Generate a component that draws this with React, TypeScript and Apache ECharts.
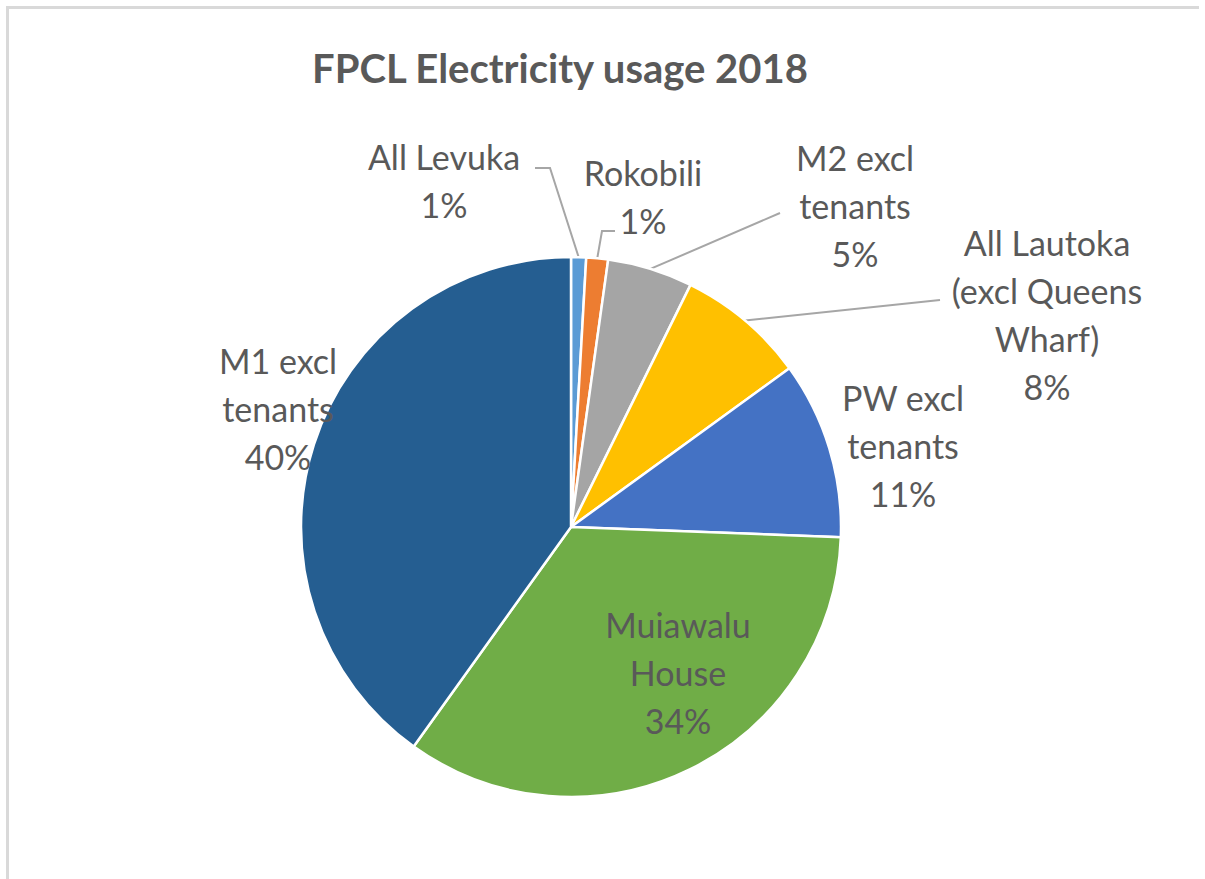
import React, { useEffect, useRef } from "react";
import * as echarts from "echarts";

// ---- data ----
const TITLE = "FPCL Electricity usage 2018";
const categories = [
  "All Levuka",
  "Rokobili",
  "M2 excl\ntenants",
  "All Lautoka\n(excl Queens\nWharf)",
  "PW excl\ntenants",
  "Muiawalu\nHouse",
  "M1 excl\ntenants",
];
const values = [0.9, 1.3, 5.1, 7.7, 10.6, 34.3, 40.1];
const colors = ["#5B9BD5", "#ED7D31", "#A5A5A5", "#FFC000", "#4472C4", "#70AD47", "#255E91"];

// ---- layout (pixels) ----
const CENTER: [number, number] = [571, 527];
const RADIUS = 270;
const LABEL_POS: [number, number][] = [
  [444, 180],
  [643, 196],
  [855, 205],
  [1047, 314],
  [903, 445],
  [678, 672],
  [278, 408],
];
const LEADER: ([number, number][] | null)[] = [
  [[550, 168], [535, 168]],
  [[602, 231], [615, 231]],
  [[780, 213]],
  [[940, 300]],
  null,
  null,
  null,
];

const TEXT_COLOR = "#595959";
const FONT = "Lato";

export default function App() {
  const ref = useRef<HTMLDivElement>(null);
  useEffect(() => {
    document.body.style.margin = "0";
    if (!ref.current) return;
    const chart = echarts.init(ref.current, undefined, { renderer: "svg" });
    const total = values.reduce((a, b) => a + b, 0);
    const cum: number[] = [];
    values.reduce((acc, v) => {
      cum.push(acc);
      return acc + v;
    }, 0);
    const edgePoint = (i: number): [number, number] => {
      const theta = ((cum[i] + values[i] / 2) / total) * Math.PI * 2;
      return [CENTER[0] + RADIUS * Math.sin(theta), CENTER[1] - RADIUS * Math.cos(theta)];
    };
    chart.setOption({
      animation: false,
      backgroundColor: "#ffffff",
      graphic: [
        {
          type: "text",
          x: 560,
          y: 68,
          style: {
            text: TITLE,
            fill: TEXT_COLOR,
            fontFamily: FONT,
            fontSize: 40,
            fontWeight: "bold",
            align: "center",
            verticalAlign: "middle",
            textAlign: "center",
            textVerticalAlign: "middle",
          },
        },
        {
          type: "line",
          shape: { x1: 7.5, y1: 7, x2: 7.5, y2: 879 },
          style: { stroke: "#d9d9d9", lineWidth: 3 },
        },
        {
          type: "line",
          shape: { x1: 6, y1: 7.5, x2: 1199, y2: 7.5 },
          style: { stroke: "#d9d9d9", lineWidth: 3 },
        },
      ],
      series: [
        {
          type: "pie",
          center: CENTER,
          radius: RADIUS,
          startAngle: 90,
          clockwise: true,
          avoidLabelOverlap: false,
          minShowLabelAngle: 0,
          itemStyle: { borderColor: "#ffffff", borderWidth: 2.5 },
          emphasis: { disabled: true },
          label: {
            show: true,
            position: "outside",
            overflow: "none",
            color: TEXT_COLOR,
            fontFamily: FONT,
            fontSize: 34,
            lineHeight: 48,
            align: "center",
            formatter: (p: any) => `${p.name}\n${Math.round(p.percent)}%`,
          },
          labelLine: {
            show: true,
            smooth: false,
            lineStyle: { color: "#a6a6a6", width: 2 },
          },
          labelLayout: (params: any) => {
            const i = params.dataIndex;
            const [x, y] = LABEL_POS[i];
            const out: any = { x, y, align: "center", verticalAlign: "middle" };
            const lead = LEADER[i];
            if (lead) out.labelLinePoints = [edgePoint(i), ...lead];
            return out;
          },
          data: categories.map((name, i) => ({
            name,
            value: values[i],
            itemStyle: { color: colors[i] },
            labelLine: { show: LEADER[i] != null },
          })),
        },
      ],
    });
    return () => chart.dispose();
  }, []);
  return <div ref={ref} style={{ width: 1205, height: 879 }} />;
}
